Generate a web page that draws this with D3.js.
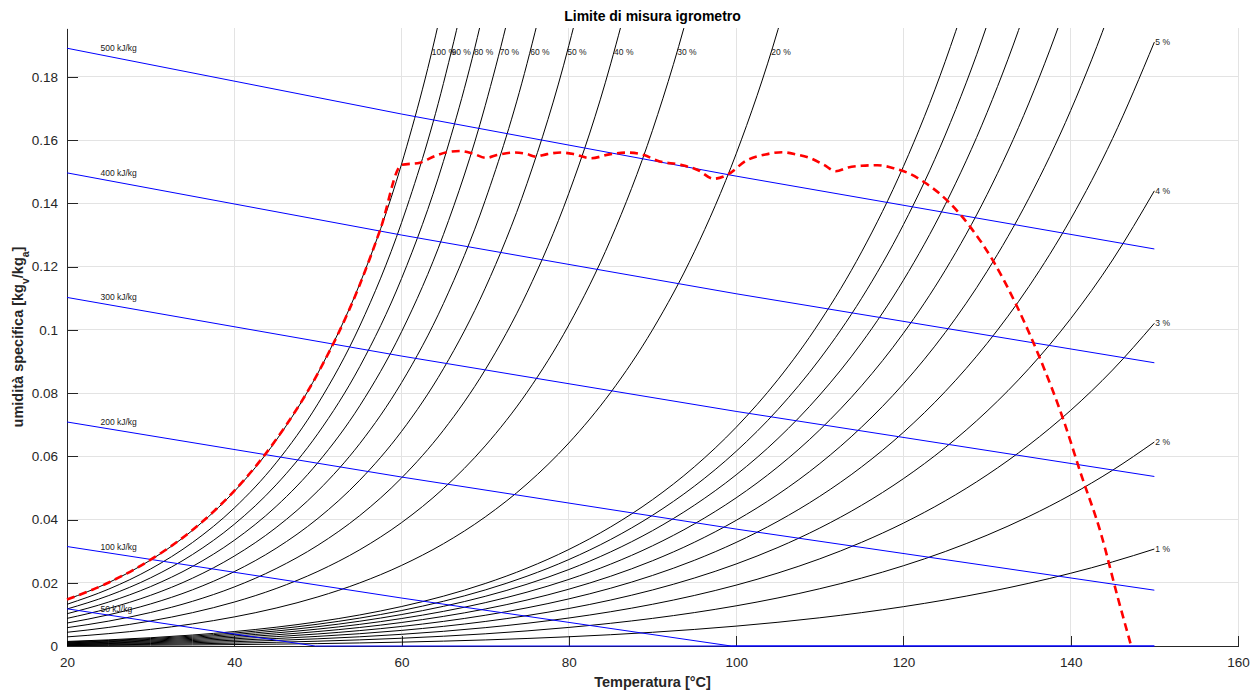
<!DOCTYPE html>
<html><head><meta charset="utf-8">
<script src="https://cdn.jsdelivr.net/npm/d3@7"></script>
<style>
body{margin:0;background:#fff}
svg{display:block}
text{font-family:"Liberation Sans",Arial,Helvetica,sans-serif}
</style>
</head><body><svg id="c" width="1260" height="692"></svg>
<script>
// ---------- data ----------
// saturation pressure of water (steam table), kPa
const satTemps = [20,25,30,35,40,45,50,55,60,65,70,75,80,85,90,95,100,105,110,115,120,125,130,135,140,145,150];
const satPressureKPa = [2.339,3.169,4.246,5.628,7.384,9.593,12.350,15.758,19.946,25.042,31.201,38.595,47.414,57.867,70.182,84.609,101.42,120.90,143.38,169.18,198.67,232.23,270.28,313.22,361.53,415.68,476.16];
const totalPressureKPa = 101.325;
const rhLevels = [100,90,80,70,60,50,40,30,20,10,9,8,7,6,5,4,3,2,1];
const rhTopLabels = [100,90,80,70,60,50,40,30,20];
const rhEndLabels = [5,4,3,2,1];
const rhTopLabelY = 0.188;

const enthalpyLevels = [50,100,200,300,400,500];
const enthalpyLines = [
  [[20,0.01177],[35,0.00576],[49.7,0],[150,0]],
  [[20,0.03147],[60,0.01517],[99.4,0],[150,0]],
  [[20,0.07087],[60,0.05345],[100,0.03699],[150,0.01766]],
  [[20,0.11027],[60,0.09172],[100,0.07421],[150,0.05363]],
  [[20,0.14967],[60,0.13000],[100,0.11143],[150,0.08960]],
  [[20,0.18910],[60,0.16828],[100,0.14864],[150,0.12560]]
];
const enthalpyLabelT = 24;

const limitCurve = [[20,0.0147],[25,0.0201],[30,0.0273],[35,0.0367],[40,0.0491],[45,0.0653],[50,0.0863],[55,0.1143],[57.5,0.1321],[60,0.1522],[62.2,0.1529],[64,0.1550],[65.4,0.1562],[67,0.1566],[68.6,0.1557],[70.1,0.1544],[71.4,0.1553],[73.4,0.1561],[75,0.1556],[76,0.1548],[77.4,0.1556],[79,0.1561],[80.6,0.1556],[82.6,0.1543],[85,0.1556],[87,0.1561],[89,0.1553],[90.6,0.1535],[93.4,0.1522],[95.4,0.1506],[97.3,0.1478],[98.9,0.149],[101.3,0.1537],[103.5,0.1555],[105.5,0.1562],[107.2,0.1555],[108.9,0.1543],[110.5,0.1522],[111.9,0.1502],[113.4,0.1514],[115,0.1519],[116.9,0.1521],[118.9,0.1511],[120.5,0.1497],[122.5,0.1467],[125.4,0.1405],[128.1,0.1322],[130.8,0.1215],[133.6,0.1073],[136.4,0.0905],[139.2,0.071],[141.2,0.0546],[143.6,0.0357],[145.6,0.0156],[147.2,0.0003]];

const xTicks = [20,40,60,80,100,120,140,160];
const yTicks = [0,0.02,0.04,0.06,0.08,0.1,0.12,0.14,0.16,0.18];
const yTickLabels = ["0","0.02","0.04","0.06","0.08","0.1","0.12","0.14","0.16","0.18"];
const xDomain = [20,160];
const yDomain = [0,0.1955];

// ---------- drawing ----------
const svg = d3.select("#c");
const L = 67, R = 1238, T = 28, B = 646;
const x = d3.scaleLinear(xDomain,[L,R]);
const y = d3.scaleLinear(yDomain,[B,T]);
const ink = "#262626";

// grid
const grid = svg.append("g").attr("shape-rendering","crispEdges").attr("stroke","#e3e3e3").attr("stroke-width",1);
grid.selectAll("line.gx").data(xTicks).join("line").attr("x1",d=>x(d)).attr("x2",d=>x(d)).attr("y1",T).attr("y2",B);
grid.selectAll("line.gy").data(yTicks).join("line").attr("y1",d=>y(d)).attr("y2",d=>y(d)).attr("x1",L).attr("x2",R);

// axes
const ax = svg.append("g").attr("transform",`translate(0,${B})`)
  .call(d3.axisBottom(x).tickValues(xTicks).tickSizeInner(-10).tickSizeOuter(0).tickPadding(11));
const ay = svg.append("g").attr("transform",`translate(${L},0)`)
  .call(d3.axisLeft(y).tickValues(yTicks).tickFormat((d,i)=>yTickLabels[i]).tickSizeInner(-11).tickSizeOuter(0).tickPadding(9));
[ax,ay].forEach(g=>{
  g.selectAll("path,line").attr("stroke",ink).attr("stroke-width",1).attr("shape-rendering","crispEdges");
  g.selectAll("text").attr("fill",ink).style("font-size","13.5px").style("font-family",'"Liberation Sans",Arial,sans-serif');
});

// clip
svg.append("clipPath").attr("id","plotclip").append("rect")
  .attr("x",L-2).attr("y",T).attr("width",R-L+4).attr("height",B-T+3);
const plot = svg.append("g").attr("clip-path","url(#plotclip)");

const w = (phi,ps)=> 0.622*phi*ps/(totalPressureKPa-phi*ps);
const line = d3.line().x(d=>x(d[0])).y(d=>y(d[1])).curve(d3.curveMonotoneX);
const lineLin = d3.line().x(d=>x(d[0])).y(d=>y(d[1]));

// RH curves
const rhCurves = rhLevels.map(rh=>{
  const phi = rh/100, pts=[]; let beyond=0;
  for(let i=0;i<satTemps.length;i++){
    const ps = satPressureKPa[i];
    if(totalPressureKPa-phi*ps<=0) break;
    const v = w(phi,ps);
    pts.push([satTemps[i],v]);
    if(v>yDomain[1]){ beyond++; if(beyond>=2) break; }
  }
  return {rh,pts};
});
plot.append("g").selectAll("path").data(rhCurves).join("path")
  .attr("d",d=>line(d.pts)).attr("fill","none").attr("stroke","#000").attr("stroke-width",1);

// enthalpy lines
plot.append("g").selectAll("path").data(enthalpyLines).join("path")
  .attr("d",d=>lineLin(d)).attr("fill","none").attr("stroke","#0000ff").attr("stroke-width",1);

// limit curve
plot.append("path").attr("d",line(limitCurve)).attr("fill","none")
  .attr("stroke","#ff0000").attr("stroke-width",2.6).attr("stroke-dasharray","8,5");

// labels
const lab = svg.append("g").attr("fill","#1a1a1a").style("font-size","8.5px");
function tempAt(phi,target){
  const psT = totalPressureKPa*target/(0.622+target)/phi;
  for(let i=0;i<satTemps.length-1;i++){
    const a=satPressureKPa[i], b=satPressureKPa[i+1];
    if(psT>=a && psT<b){
      return satTemps[i]+(satTemps[i+1]-satTemps[i])*(Math.log(psT)-Math.log(a))/(Math.log(b)-Math.log(a));
    }
  }
  return null;
}
lab.selectAll("text.top").data(rhTopLabels).join("text")
  .attr("x",d=>x(tempAt(d/100,rhTopLabelY))).attr("y",y(rhTopLabelY))
  .attr("dominant-baseline","central").text(d=>d+" %");
const lastT = satTemps[satTemps.length-1], lastP = satPressureKPa[satPressureKPa.length-1];
lab.selectAll("text.end").data(rhEndLabels).join("text")
  .attr("x",x(lastT)+1).attr("y",d=>y(w(d/100,lastP)))
  .attr("dominant-baseline","central").text(d=>d+" %");
lab.selectAll("text.h").data(enthalpyLevels).join("text")
  .attr("x",x(enthalpyLabelT)).attr("y",(d,i)=>y(enthalpyLines[i][0][1]))
  .attr("dominant-baseline","central").text(d=>d+" kJ/kg");

// titles
svg.append("text").attr("x",(L+R)/2).attr("y",21).attr("text-anchor","middle")
  .attr("fill","#000").style("font-size","14px").style("font-weight","bold").text("Limite di misura igrometro");
svg.append("text").attr("x",(L+R)/2).attr("y",687).attr("text-anchor","middle")
  .attr("fill",ink).style("font-size","14.5px").style("font-weight","bold").text("Temperatura [°C]");
const yl = svg.append("text").attr("transform",`translate(23,${(T+B)/2}) rotate(-90)`).attr("text-anchor","middle")
  .attr("fill",ink).style("font-size","14.5px").style("font-weight","bold");
yl.append("tspan").text("umidità specifica [kg");
yl.append("tspan").attr("baseline-shift","sub").style("font-size","10.5px").text("v");
yl.append("tspan").text("/kg");
yl.append("tspan").attr("baseline-shift","sub").style("font-size","10.5px").text("a");
yl.append("tspan").text("]");
</script>
</body></html>
